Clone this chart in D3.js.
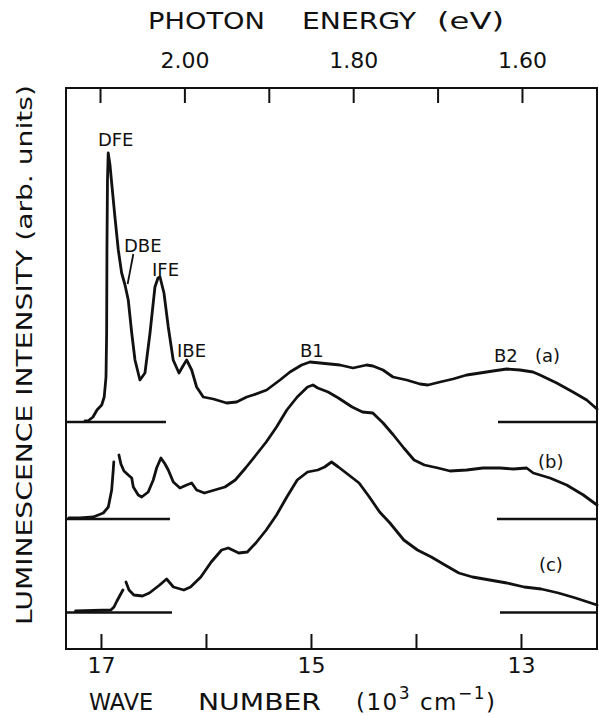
<!DOCTYPE html>
<html>
<head>
<meta charset="utf-8">
<script src="https://cdn.jsdelivr.net/npm/d3@7"></script>
<style>
  body { margin: 0; background: #fff; }
  svg { display: block; }
  text { font-family: "DejaVu Sans", sans-serif; fill: #111; }
</style>
</head>
<body>
<svg id="chart" width="599" height="717"></svg>
<script>
// ---- data (wave number in 10^3 cm^-1, intensity in arb. units) ----
const waveTicks = [17, 16, 15, 14, 13];
const waveTickLabels = ["17", "", "15", "", "13"];
const energyTicks = [2.10, 2.00, 1.90, 1.80, 1.70, 1.60];
const energyTickLabels = ["", "2.00", "", "1.80", "", "1.60"];

const traceA = [
  [17.152,228],[17.124,228],[17.076,232],[17.038,239],[16.993,244],[16.969,252],[16.952,272],
  [16.946,316],[16.943,399],[16.938,469],[16.931,496],[16.914,484],[16.898,466],[16.867,432],
  [16.835,399],[16.803,376],[16.771,364],[16.740,349],[16.707,316],[16.676,289],[16.629,269],
  [16.581,276],[16.533,316],[16.486,362],[16.457,371],[16.438,372],[16.400,356],[16.359,322],
  [16.312,289],[16.257,276],[16.219,283],[16.184,289],[16.136,279],[16.089,262],[16.026,252],
  [15.930,250],[15.803,246],[15.708,247],[15.612,252],[15.552,254],[15.422,259],[15.295,269],
  [15.200,277],[15.089,284],[15.010,287],[14.914,286],[14.819,285],[14.724,284],[14.600,281],
  [14.470,284],[14.410,283],[14.314,279],[14.219,272],[14.089,269],[13.962,265],[13.886,264],
  [13.771,267],[13.648,270],[13.517,274],[13.390,276],[13.267,278],[13.136,280],[13.010,279],
  [12.886,277],[12.819,274],[12.660,266],[12.505,257],[12.374,249],[12.276,240]
];
const traceB = [
  [17.305,131],[17.200,131],[17.073,132],[16.978,136],[16.930,142],[16.898,159],[16.883,179],[16.878,187],
  null,
  [16.829,194],[16.810,185],[16.781,178],[16.740,174],[16.707,171],[16.692,162],[16.645,154],
  [16.612,152],[16.550,157],[16.502,169],[16.470,181],[16.429,191],[16.390,185],[16.359,179],
  [16.311,167],[16.248,161],[16.184,164],[16.136,166],[16.089,159],[16.015,156],[15.917,159],
  [15.819,162],[15.721,169],[15.623,181],[15.524,194],[15.426,207],[15.328,222],[15.230,239],
  [15.131,252],[15.033,262],[14.981,264],[14.935,261],[14.837,257],[14.739,251],[14.608,242],
  [14.510,237],[14.411,236],[14.313,226],[14.215,214],[14.116,201],[14.018,189],[13.920,184],
  [13.790,181],[13.676,178],[13.517,179],[13.362,181],[13.200,181],[13.073,180],[12.946,181],
  [12.883,176],[12.724,171],[12.565,164],[12.406,154],[12.276,144]
];
const traceC = [
  [17.242,38],[16.906,39],[16.876,42],[16.848,48],[16.791,59],
  null,
  [16.762,67],[16.733,59],[16.687,54],[16.605,53],[16.539,56],[16.441,64],[16.375,70],
  [16.310,62],[16.211,59],[16.147,62],[16.049,72],[15.950,87],[15.851,99],[15.787,101],
  [15.688,96],[15.606,97],[15.525,106],[15.426,119],[15.328,134],[15.230,152],[15.131,169],
  [15.033,177],[14.935,179],[14.870,182],[14.804,187],[14.739,182],[14.640,174],[14.542,166],
  [14.444,152],[14.346,137],[14.248,126],[14.116,109],[13.986,99],[13.854,92],[13.724,84],
  [13.592,76],[13.462,72],[13.298,69],[13.134,66],[12.970,62],[12.807,60],[12.643,56],
  [12.480,51],[12.276,44]
];
const baseLevels = [227, 130, 36.5];
const baseLeftEnd = [16.381, 16.343, 16.324];
const baseRightStart = [13.219, 13.229, 13.200];

const peakLabels = ["DFE", "DBE", "IFE", "IBE", "B1", "B2", "(a)", "(b)", "(c)"];
const peakLabelK = [17.029, 16.781, 16.514, 16.276, 15.105, 13.257, 12.867, 12.838, 12.829];
const peakLabelV = [503, 397, 373, 292, 292, 287, 287, 181, 78];
const dbePointer = [[16.692, 395], [16.746, 365]];

// ---- layout ----
const L = 66, R = 597, T = 88, B = 649;
const kMin = 12.276, kMax = 17.333;
const svg = d3.select("#chart");
const x = d3.scaleLinear().domain([kMax, kMin]).range([L, R]);
const xe = d3.scaleLinear().domain([2.1403, 1.5111]).range([L, R]);
const y = d3.scaleLinear().domain([0, 561]).range([B, T]);

// axes
const bottomAxis = d3.axisBottom(x).tickValues(waveTicks)
  .tickFormat((d, i) => waveTickLabels[i]).tickSize(-15).tickPadding(8);
const gB = svg.append("g").attr("transform", `translate(0,${B})`).call(bottomAxis);
const topAxis = d3.axisTop(xe).tickValues(energyTicks)
  .tickFormat((d, i) => energyTickLabels[i]).tickSize(-15).tickPadding(20);
const gT = svg.append("g").attr("transform", `translate(0,${T})`).call(topAxis);
[gB, gT].forEach(g => {
  g.select(".domain").remove();
  g.selectAll(".tick line").attr("stroke", "#111").attr("stroke-width", 2);
  g.selectAll(".tick text").style("font-size", "22px").attr("fill", "#111")
    .style("font-family", "'DejaVu Sans', sans-serif");
});

// frame
svg.append("rect").attr("x", L).attr("y", T).attr("width", R - L).attr("height", B - T)
  .attr("fill", "none").attr("stroke", "#111").attr("stroke-width", 2);

// baselines
baseLevels.forEach((v, i) => {
  svg.append("line").attr("x1", x(kMax)).attr("x2", x(baseLeftEnd[i]))
    .attr("y1", y(v)).attr("y2", y(v)).attr("stroke", "#111").attr("stroke-width", 2.5);
  svg.append("line").attr("x1", x(baseRightStart[i])).attr("x2", x(kMin))
    .attr("y1", y(v)).attr("y2", y(v)).attr("stroke", "#111").attr("stroke-width", 2.5);
});

// spectra
const line = d3.line().defined(d => d !== null).x(d => x(d[0])).y(d => y(d[1]));
[traceA, traceB, traceC].forEach(tr => {
  svg.append("path").attr("d", line(tr)).attr("fill", "none")
    .attr("stroke", "#111").attr("stroke-width", 2.8)
    .attr("stroke-linejoin", "round").attr("stroke-linecap", "round");
});

// annotations
peakLabels.forEach((t, i) => {
  svg.append("text").attr("x", x(peakLabelK[i])).attr("y", y(peakLabelV[i]))
    .style("font-size", "18px").text(t);
});
svg.append("line").attr("x1", x(dbePointer[0][0])).attr("y1", y(dbePointer[0][1]))
  .attr("x2", x(dbePointer[1][0])).attr("y2", y(dbePointer[1][1]))
  .attr("stroke", "#111").attr("stroke-width", 1.8);

// axis titles
const topWords = [["PHOTON", 148, 117], ["ENERGY", 302, 114], ["(eV)", 437, 67]];
topWords.forEach(([w, px, len]) => {
  svg.append("text").attr("x", px).attr("y", 29).style("font-size", "23px")
    .attr("textLength", len).attr("lengthAdjust", "spacingAndGlyphs").text(w);
});
const botWords = [["WAVE", 89, 64], ["NUMBER", 198, 123]];
botWords.forEach(([w, px, len]) => {
  svg.append("text").attr("x", px).attr("y", 710).style("font-size", "23px")
    .attr("textLength", len).attr("lengthAdjust", "spacingAndGlyphs").text(w);
});
const unit = svg.append("text").attr("x", 356).attr("y", 710)
  .style("font-size", "23px").attr("letter-spacing", "1.5px");
unit.append("tspan").text("(10");
unit.append("tspan").attr("dy", -11).style("font-size", "17px").text("3");
unit.append("tspan").attr("dy", 11).text(" cm");
unit.append("tspan").attr("dy", -11).style("font-size", "17px").text("−1");
unit.append("tspan").attr("dy", 11).text(")");

svg.append("text").attr("transform", "translate(32,625) rotate(-90)")
  .style("font-size", "22px").attr("textLength", 540).attr("lengthAdjust", "spacingAndGlyphs")
  .text("LUMINESCENCE  INTENSITY  (arb. units)");
</script>
</body>
</html>
